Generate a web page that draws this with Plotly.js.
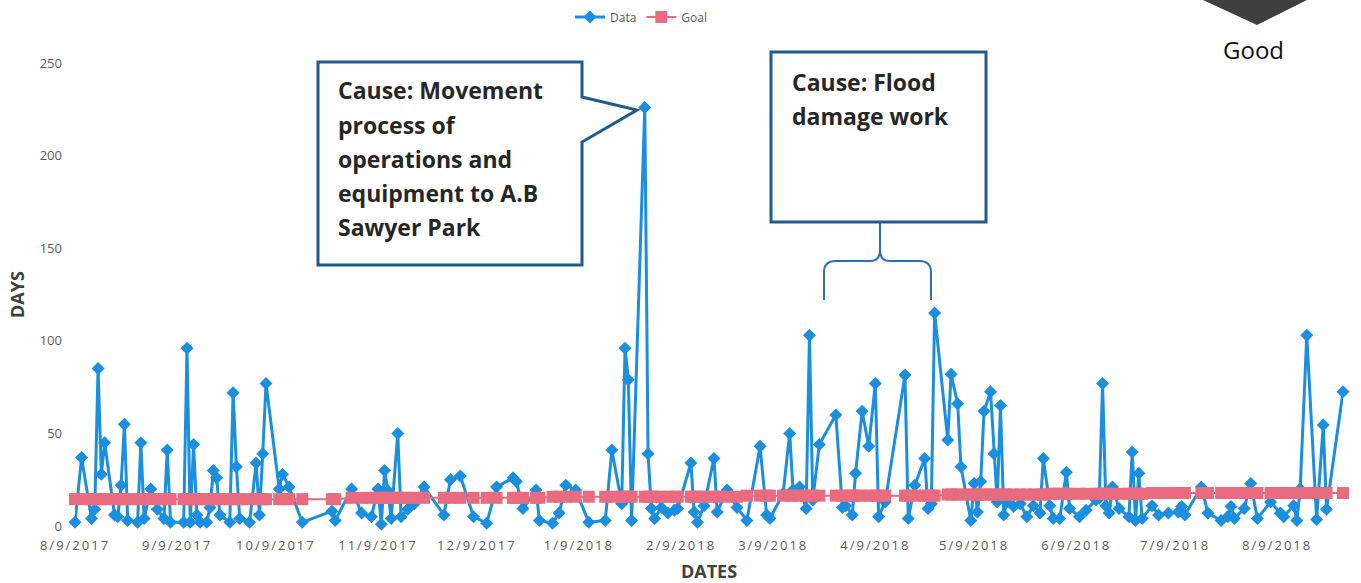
<!DOCTYPE html>
<html><head><meta charset="utf-8">
<script src="https://cdn.plot.ly/plotly-3.0.1.min.js"></script>
<style>
html,body{margin:0;padding:0;background:#fff;}
#chart{width:1361px;height:583px;}
.xtick text{letter-spacing:2px;}
</style></head><body><div id="chart"></div>
<script>
// ---- data ----
const dates = [
 '2017-08-09','2017-08-11','2017-08-14','2017-08-15','2017-08-16','2017-08-17','2017-08-18','2017-08-21','2017-08-22','2017-08-23',
 '2017-08-24','2017-08-25','2017-08-28','2017-08-29','2017-08-30','2017-09-01','2017-09-03','2017-09-05','2017-09-06','2017-09-07',
 '2017-09-11','2017-09-12','2017-09-13','2017-09-14','2017-09-15','2017-09-16','2017-09-18','2017-09-19','2017-09-20','2017-09-21',
 '2017-09-22','2017-09-25','2017-09-26','2017-09-27','2017-09-28','2017-10-01','2017-10-03','2017-10-04','2017-10-05','2017-10-06',
 '2017-10-10','2017-10-11','2017-10-13','2017-10-17','2017-10-26','2017-10-27',
 '2017-11-01','2017-11-04','2017-11-07','2017-11-09','2017-11-10','2017-11-11','2017-11-12','2017-11-13','2017-11-15','2017-11-16',
 '2017-11-18','2017-11-20','2017-11-23','2017-11-29','2017-12-01','2017-12-04','2017-12-08','2017-12-12','2017-12-15','2017-12-20',
 '2017-12-21','2017-12-23','2017-12-27','2017-12-28',
 '2018-01-01','2018-01-03','2018-01-05','2018-01-08','2018-01-12','2018-01-17','2018-01-19','2018-01-22','2018-01-23','2018-01-24',
 '2018-01-25','2018-01-29','2018-01-30','2018-01-31','2018-02-01','2018-02-03','2018-02-05','2018-02-07','2018-02-08','2018-02-12',
 '2018-02-13','2018-02-14','2018-02-16','2018-02-19','2018-02-20','2018-02-23','2018-02-26',
 '2018-03-01','2018-03-05','2018-03-07','2018-03-08','2018-03-12','2018-03-14','2018-03-15','2018-03-17','2018-03-19','2018-03-20',
 '2018-03-21','2018-03-23','2018-03-28','2018-03-30','2018-03-31','2018-04-02','2018-04-03','2018-04-05','2018-04-07','2018-04-09',
 '2018-04-10','2018-04-12','2018-04-18','2018-04-19','2018-04-21','2018-04-24','2018-04-25','2018-04-26','2018-04-27',
 '2018-05-01','2018-05-02','2018-05-04','2018-05-05','2018-05-08','2018-05-09','2018-05-10','2018-05-11','2018-05-12','2018-05-14',
 '2018-05-15','2018-05-16','2018-05-17','2018-05-18','2018-05-19','2018-05-21','2018-05-23','2018-05-25','2018-05-27','2018-05-29',
 '2018-05-30',
 '2018-06-01','2018-06-02','2018-06-04','2018-06-06','2018-06-07','2018-06-10','2018-06-12','2018-06-15','2018-06-16','2018-06-17',
 '2018-06-18','2018-06-19','2018-06-20','2018-06-22','2018-06-25','2018-06-26','2018-06-27','2018-06-28','2018-06-29',
 '2018-07-02','2018-07-04','2018-07-07','2018-07-10','2018-07-11','2018-07-12','2018-07-17','2018-07-19','2018-07-23','2018-07-25',
 '2018-07-26','2018-07-27','2018-07-30','2018-08-01','2018-08-03','2018-08-07','2018-08-10','2018-08-11','2018-08-14','2018-08-15',
 '2018-08-16','2018-08-18','2018-08-21','2018-08-23','2018-08-24','2018-08-29'
];
const days = [
 2,37,4,9,85,28,45,6,5,22,
 55,3,2,45,4,20,9,4,41,2,
 2,96,2,44,6,2,2,10,30,26,
 6,2,72,32,4,2,34,6,39,77,
 20,28,21,2,8,3,
 20,7,5,20,1,30,19,4,50,5,
 9,12,21,6,25,27,5,1.5,21,26,
 24,9.5,19.5,3,
 1.5,7,22,19.5,2,3,41,12,96,79,
 3,226,39,9.5,4,10,7,8.5,9.5,34,
 7.5,2,11,36.5,7.5,19.5,10,
 3,43,6,4,17.5,50,19.5,21,9.5,103,
 14,44,60,10,11,6,28.5,62,43,77,
 5,13,81.5,4,22,36.5,9.5,12,115,
 46.5,82,66,32,3,23,7.5,24,62,72.5,
 39,13,65,6,13,10.5,12,5,11,7,
 36.5,
 11,4,4,29,9.5,5,8.5,14,15,77,
 11,7,21,9.5,5,40,3,28.5,4,
 11,6,7,7.5,10.5,6,21,7,3,5,
 10.5,4,9.5,23,4,13,7,5,11,3,
 20,103,3.5,54.5,9,72.5
];
const goal = [
 14.5,14.5,14.5,14.5,14.5,14.5,14.5,14.5,14.5,14.5,
 14.5,14.5,14.5,14.5,14.5,14.5,14.5,14.5,14.5,14.5,
 14.5,14.5,14.5,14.5,14.5,14.5,14.5,14.5,14.5,14.5,
 14.5,14.5,14.5,14.5,14.5,14.5,14.5,14.5,14.5,14.5,
 14.5,14.5,14.5,14.5,14.5,14.5,
 15.2,15.2,15.2,15.2,15.2,15.2,15.2,15.2,15.2,15.2,
 15.2,15.2,15.2,15.2,15.2,15.2,15.2,15.2,15.2,15.2,
 15.2,15.2,15.2,15.2,
 15.8,15.8,15.8,15.8,15.8,15.8,15.8,15.8,15.8,15.8,
 15.8,15.8,15.8,15.8,15.8,15.8,15.8,15.8,15.8,15.8,
 15.8,15.8,15.8,15.8,15.8,15.8,15.8,
 16.4,16.4,16.4,16.4,16.4,16.4,16.4,16.4,16.4,16.4,
 16.4,16.4,16.4,16.4,16.4,16.4,16.4,16.4,16.4,16.4,
 16.4,16.4,16.4,16.4,16.4,16.4,16.4,16.4,16.4,
 17,17,17,17,17,17,17,17,17,17,
 17,17,17,17,17,17,17,17,17,17,
 17,
 17.4,17.4,17.4,17.4,17.4,17.4,17.4,17.4,17.4,17.4,
 17.4,17.4,17.4,17.4,17.4,17.4,17.4,17.4,17.4,
 17.8,17.8,17.8,17.8,17.8,17.8,17.8,17.8,17.8,17.8,
 17.8,17.8,17.8,17.8,17.8,17.8,17.8,17.8,17.8,17.8,
 17.8,17.8,17.8,17.8,17.8,17.8
];
const xTickDates = ['2017-08-09','2017-09-09','2017-10-09','2017-11-09','2017-12-09','2018-01-09','2018-02-09','2018-03-09','2018-04-09','2018-05-09','2018-06-09','2018-07-09','2018-08-09'];
const xTickLabels = ['8/9/2017','9/9/2017','10/9/2017','11/9/2017','12/9/2017','1/9/2018','2/9/2018','3/9/2018','4/9/2018','5/9/2018','6/9/2018','7/9/2018','8/9/2018'];
const yTicks = [0,50,100,150,200,250];
const seriesNames = ['Data','Goal'];
const callout1 = ['Cause: Movement','process of','operations and','equipment to A.B','Sawyer Park'];
const callout2 = ['Cause: Flood','damage work'];
const goodLabel = 'Good';

// ---- layout helpers (pixel -> paper) ----
const PL = 75, PR = 1343, PT = 63, PB = 526;
const px = p => (p - PL) / (PR - PL);
const py = p => (PB - p) / (PB - PT);
const P = q => px(q[0]).toFixed(5) + ',' + py(q[1]).toFixed(5);
const path = pts => 'M' + pts.map(P).join(' L') + ' Z';

const BLUE = '#1a8fe0', RED = '#e96b7f', BOX = '#1f5c8c';

const traces = [
  {x: dates, y: days, name: seriesNames[0], type: 'scatter', mode: 'lines+markers', cliponaxis: false,
   line: {color: BLUE, width: 3}, marker: {symbol: 'diamond', size: 10, color: BLUE}},
  {x: dates, y: goal, name: seriesNames[1], type: 'scatter', mode: 'lines+markers', cliponaxis: false,
   line: {color: RED, width: 2}, marker: {symbol: 'square', size: 12, color: RED}}
];

const textFont = {family: 'Open Sans', size: 23, color: '#262626'};
const annotations = [];
const c1y = [90, 125, 159, 193, 227];
callout1.forEach((t, i) => annotations.push({xref: 'paper', yref: 'paper', x: px(336), y: py(c1y[i]), xanchor: 'left', yanchor: 'middle', showarrow: false, text: '<b>' + t + '</b>', font: textFont}));
const c2y = [82, 116];
callout2.forEach((t, i) => annotations.push({xref: 'paper', yref: 'paper', x: px(790), y: py(c2y[i]), xanchor: 'left', yanchor: 'middle', showarrow: false, text: '<b>' + t + '</b>', font: textFont}));
annotations.push({xref: 'paper', yref: 'paper', x: px(1253), y: py(49), xanchor: 'center', yanchor: 'middle', showarrow: false, text: goodLabel, font: {family: 'Open Sans', size: 24, color: '#111'}});

const bracePath = 'M' + P([824,300]) + ' L' + P([824,272])
  + ' Q' + P([824,261]) + ' ' + P([836,261])
  + ' L' + P([870,261])
  + ' Q' + P([880,261]) + ' ' + P([880,250])
  + ' L' + P([880,222])
  + ' M' + P([880,250])
  + ' Q' + P([880,261]) + ' ' + P([890,261])
  + ' L' + P([919,261])
  + ' Q' + P([931,261]) + ' ' + P([931,272])
  + ' L' + P([931,300]);

const shapes = [
  {type: 'path', xref: 'paper', yref: 'paper', path: path([[318,62],[582,62],[582,97],[637,110],[582,142],[582,265],[318,265]]),
   line: {color: BOX, width: 3}, fillcolor: 'rgba(255,255,255,0)'},
  {type: 'rect', xref: 'paper', yref: 'paper', x0: px(771), x1: px(986), y0: py(222), y1: py(52),
   line: {color: BOX, width: 3}, fillcolor: 'rgba(255,255,255,0)'},
  {type: 'path', xref: 'paper', yref: 'paper', path: bracePath, line: {color: '#2a6fb5', width: 2}},
  {type: 'path', xref: 'paper', yref: 'paper', path: path([[1203,0],[1307,0],[1257,25]]), line: {width: 0}, fillcolor: '#3f3f3f'}
];

const tickFont = {family: 'Open Sans', size: 13, color: '#595959'};
const layout = {
  width: 1361, height: 583,
  margin: {l: PL, r: 1361 - PR, t: PT, b: 583 - PB, autoexpand: false},
  paper_bgcolor: '#fff', plot_bgcolor: '#fff',
  showlegend: true,
  legend: {orientation: 'h', x: px(641), xanchor: 'center', y: py(17), yanchor: 'middle', font: {family: 'Open Sans', size: 12, color: '#595959'}, bgcolor: 'rgba(0,0,0,0)'},
  xaxis: {type: 'date', range: ['2017-08-09', '2018-08-29'], tickmode: 'array', tickvals: xTickDates, ticktext: xTickLabels,
    showgrid: false, zeroline: false, showline: false, ticks: '', tickfont: tickFont, ticklabelstandoff: 10, automargin: false,
    title: {text: '<b>DATES</b>', font: {family: 'Open Sans', size: 18, color: '#404040'}, standoff: 12}},
  yaxis: {range: [0, 250], tickmode: 'array', tickvals: yTicks, showgrid: false, zeroline: false, showline: false, ticks: '',
    tickfont: tickFont, ticklabelstandoff: 12, automargin: false,
    title: {text: '<b>DAYS</b>', font: {family: 'Open Sans', size: 18, color: '#404040'}, standoff: 10}},
  annotations: annotations,
  shapes: shapes
};

Plotly.newPlot('chart', traces, layout, {displayModeBar: false, staticPlot: true});
</script></body></html>
